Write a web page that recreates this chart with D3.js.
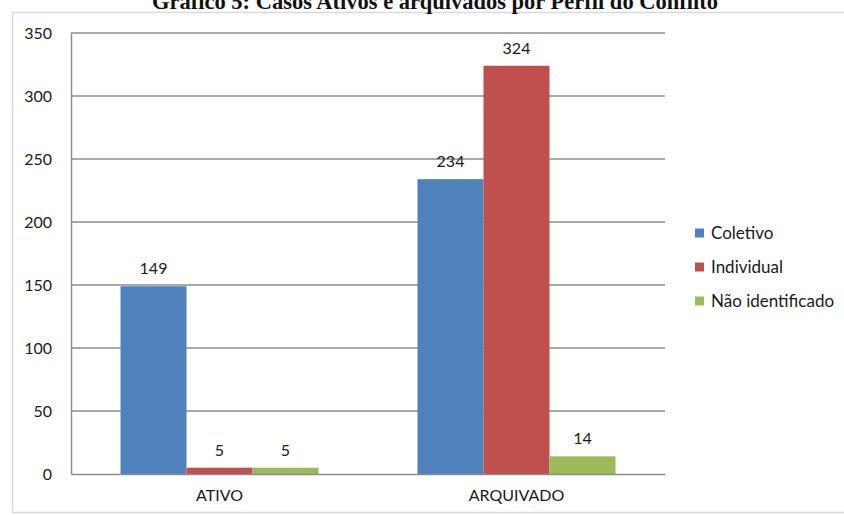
<!DOCTYPE html>
<html><head><meta charset="utf-8">
<script src="https://cdn.jsdelivr.net/npm/d3@7"></script>
<style>body{margin:0;background:#fff}svg{display:block}</style>
</head><body><svg id="c" width="844" height="515"></svg>
<script>
const categories = ["ATIVO", "ARQUIVADO"];
const seriesNames = ["Coletivo", "Individual", "Não identificado"];
const coletivo = [149, 234];
const individual = [5, 324];
const naoIdentificado = [5, 14];
const yTicks = [0, 50, 100, 150, 200, 250, 300, 350];
const colors = ["#4F81BD", "#C0504D", "#9BBB59"];
const title = "Gráfico 5: Casos Ativos e arquivados por Perfil do Conflito";

const values = [coletivo, individual, naoIdentificado];
const svg = d3.select("#c");
const font = "Lato, 'Open Sans', sans-serif";
const fs = 16;

// outer frame
svg.append("rect").attr("x", 12.5).attr("y", 12.5).attr("width", 840).attr("height", 500)
  .attr("fill", "none").attr("stroke", "#d9d9d9").attr("stroke-width", 1.5);

svg.append("text").attr("x", 435).attr("y", 9).attr("text-anchor", "middle")
  .attr("font-family", "'Liberation Serif', serif").attr("font-weight", "bold")
  .attr("font-size", 22.5).attr("fill", "#111").text(title);

const L = 71, R = 665, T = 33, B = 474;
const y = d3.scaleLinear().domain([0, 350]).range([B, T]);
const x0 = d3.scaleBand().domain(categories).range([L, R]).padding(0);
const x1 = d3.scaleBand().domain(seriesNames).range([0, x0.bandwidth()]).paddingInner(0).paddingOuter(0.75);

// grid
svg.append("g").selectAll("line").data(yTicks.filter(d => d > 0)).join("line")
  .attr("x1", L).attr("x2", R).attr("y1", d => y(d)).attr("y2", d => y(d))
  .attr("stroke", "#8c8c8c").attr("stroke-width", 1.5);

// y axis
const yAxis = svg.append("g").attr("transform", `translate(${L},0)`)
  .call(d3.axisLeft(y).tickValues(yTicks).tickSize(0).tickPadding(19));
yAxis.select(".domain").attr("stroke", "#8c8c8c").attr("stroke-width", 1.5);
yAxis.selectAll("text").attr("font-family", font).attr("font-size", fs).attr("fill", "#1a1a1a");

// bars
const groups = svg.append("g").selectAll("g").data(categories).join("g")
  .attr("transform", d => `translate(${x0(d)},0)`);
groups.each(function(cat, ci) {
  const g = d3.select(this);
  seriesNames.forEach((s, si) => {
    const v = values[si][ci];
    g.append("rect").attr("x", x1(s)).attr("width", x1.bandwidth())
      .attr("y", y(v)).attr("height", y(0) - y(v)).attr("fill", colors[si]);
    g.append("text").attr("x", x1(s) + x1.bandwidth() / 2).attr("y", y(v) - 12)
      .attr("text-anchor", "middle").attr("font-family", font).attr("font-size", fs)
      .attr("fill", "#1a1a1a").text(v);
  });
});

// x axis
const xAxis = svg.append("g").attr("transform", `translate(0,${B})`)
  .call(d3.axisBottom(x0).tickSize(0).tickPadding(16));
xAxis.select(".domain").attr("stroke", "#8c8c8c").attr("stroke-width", 1.5);
xAxis.selectAll("text").attr("font-family", font).attr("font-size", fs).attr("fill", "#1a1a1a");

// legend
const leg = svg.append("g").selectAll("g").data(seriesNames).join("g")
  .attr("transform", (d, i) => `translate(695,${233 + i * 34})`);
leg.append("rect").attr("x", 0).attr("y", -4.5).attr("width", 9).attr("height", 9)
  .attr("fill", (d, i) => colors[i]);
leg.append("text").attr("x", 16).attr("y", 6).attr("font-family", font).attr("font-size", 17)
  .attr("fill", "#1a1a1a").text(d => d);
</script></body></html>
